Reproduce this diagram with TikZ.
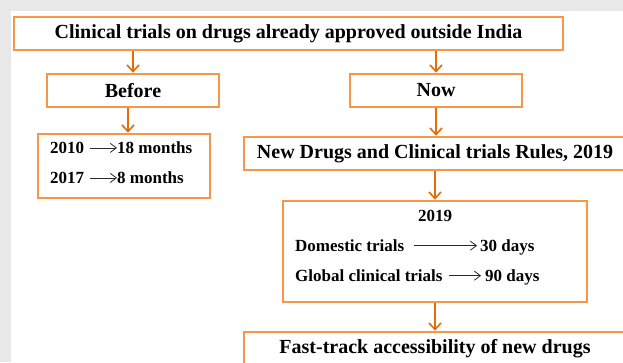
\documentclass[tikz,border=0pt]{standalone}
\usepackage{fontspec}
\setmainfont{Liberation Serif}
\usetikzlibrary{arrows.meta}

\definecolor{boxorange}{HTML}{F79646}
\definecolor{linkorange}{HTML}{E46C0A}
\definecolor{pagegray}{HTML}{E8E8E8}
\definecolor{inkgray}{HTML}{2A2A2A}

\tikzset{
  stage/.style={draw=boxorange, line width=2.7pt, fill=white,
    minimum width=#1, minimum height=33pt, inner sep=0pt,
    font=\fontsize{20}{24}\selectfont\bfseries},
  panel/.style={draw=boxorange, line width=2.7pt, fill=white, inner sep=0pt},
  entry/.style={inner sep=0pt, font=\fontsize{17}{20}\selectfont\bfseries},
  link/.style={draw=linkorange, line width=1.6pt,
    -{Straight Barb[length=6.5pt,width=12pt]}},
  txtarrow/.style={draw=inkgray, line width=0.8pt,
    -{Straight Barb[length=6pt,width=9pt]}},
}

\begin{document}
\begin{tikzpicture}[x=1pt,y=-1pt]
  % page background with grey margin at top and left
  \fill[pagegray] (0,0) rectangle (623,362);
  \fill[white] (11,11) rectangle (623,362);
  \useasboundingbox (0,0) rectangle (623,362);
  \clip (0,0) rectangle (623,362);

  % boxes
  \node[stage=549pt] (title) at (288.5,33.5) {Clinical trials on drugs already approved outside India};
  \node[stage=172pt] (before) at (133,90.5) {Before};
  \node[stage=172pt] (now) at (436,90.5) {Now};
  \node[panel, minimum width=172pt, minimum height=64pt] (past) at (124,166) {};
  \node[stage=382pt] (rules) at (435,153.5) {New Drugs and Clinical trials Rules, 2019};
  \node[panel, minimum width=304pt, minimum height=101pt] (data) at (435,251.5) {};
  \node[stage=382pt, minimum height=34pt] (fast) at (435,349) {Fast-track accessibility of new drugs};

  % earlier timelines
  \node[entry, anchor=base west] (y10) at (50,153.5) {2010};
  \node[entry, anchor=base west] (m18) at (117,153.5) {18 months};
  \node[entry, anchor=base west] (y17) at (50,183.5) {2017};
  \node[entry, anchor=base west] (m8) at (117,183.5) {8 months};
  \draw[txtarrow] ([xshift=6pt]y10.east) -- (y10.east -| m18.west);
  \draw[txtarrow] ([xshift=6pt]y17.east) -- (y17.east -| m8.west);

  % timelines under the 2019 rules
  \node[entry, anchor=base] (yr) at (435,221.5) {2019};
  \node[entry, anchor=base west] (dom) at (295,251.5) {Domestic trials};
  \node[entry, anchor=base west] (d30) at (480,251.5) {30 days};
  \node[entry, anchor=base west] (glo) at (295,281.5) {Global clinical trials};
  \node[entry, anchor=base west] (d90) at (485,281.5) {90 days};
  \draw[txtarrow] ([xshift=10pt]dom.east) -- ([xshift=-3pt]dom.east -| d30.west);
  \draw[txtarrow] ([xshift=6pt]glo.east) -- ([xshift=-4pt]glo.east -| d90.west);

  % connectors
  \draw[link] (title.south -| before.north) -- (before.north);
  \draw[link] (title.south -| now.north) -- (now.north);
  \draw[link] ([xshift=-5pt]before.south) -- ([xshift=4pt]past.north);
  \draw[link] (now.south) -- (rules.north -| now.south);
  \draw[link] (rules.south) -- (data.north);
  \draw[link] (data.south) -- (fast.north);
\end{tikzpicture}
\end{document}
